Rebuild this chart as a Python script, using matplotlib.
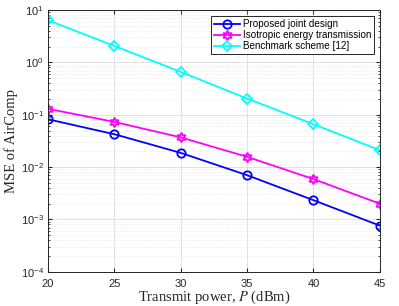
import matplotlib
matplotlib.use('Agg')
import matplotlib.pyplot as plt
import numpy as np

# Datos
power_dbm = [20, 25, 30, 35, 40, 45]
mse_proposed = [0.082, 0.0425, 0.0187, 0.0070, 0.00233, 0.00076]
mse_isotropic = [0.13, 0.073, 0.037, 0.0157, 0.0059, 0.0020]
mse_benchmark = [6.4, 2.07, 0.66, 0.204, 0.066, 0.021]

labels = ['Proposed joint design', 'Isotropic energy transmission', 'Benchmark scheme [12]']

plt.rcParams['font.family'] = ['Liberation Sans', 'DejaVu Sans']
plt.rcParams['mathtext.fontset'] = 'stix'

fig = plt.figure(figsize=(3.99, 3.06), dpi=100)
ax = fig.add_axes([0.120, 0.112, 0.832, 0.855])

ax.semilogy(power_dbm, mse_proposed, color='#0000ff', lw=1.3, marker='o', ms=6,
            mfc='none', mew=1.3, label=labels[0])
ax.semilogy(power_dbm, mse_isotropic, color='#ff00ff', lw=1.3, marker=(6, 1, 0), ms=7,
            mfc='none', mew=1.3, label=labels[1])
ax.semilogy(power_dbm, mse_benchmark, color='#00ffff', lw=1.3, marker='D', ms=5.5,
            mfc='none', mew=1.3, label=labels[2])

ax.set_xlim(20, 45)
ax.set_ylim(1e-4, 1e1)
ax.set_xticks([20, 25, 30, 35, 40, 45])
ax.set_yticks([1e-4, 1e-3, 1e-2, 1e-1, 1e0, 1e1])
ax.grid(True, which='major', color='#dcdcdc', lw=0.6)
ax.grid(True, which='minor', color='#e2e2e2', lw=0.5, ls=':')
ax.tick_params(which='both', direction='in', top=True, right=True, labelsize=8,
               colors='#262626', length=3)
ax.tick_params(axis='x', pad=5)
ax.tick_params(axis='y', pad=3)
ax.tick_params(which='minor', length=1.5)
for s in ax.spines.values():
    s.set_color('#262626')
    s.set_linewidth(0.7)

ax.set_xlabel(r'Transmit power, $P$ (dBm)', family='Liberation Serif', fontsize=10.5,
              color='#262626', labelpad=0)
ax.set_ylabel('MSE of AirComp', family='Liberation Serif', fontsize=10.5,
              color='#262626', labelpad=2)

leg = ax.legend(loc='upper right', fontsize=7.1, fancybox=False, framealpha=1,
                edgecolor='#262626', borderpad=0.3, labelspacing=0.12,
                handlelength=2.6, handletextpad=0.3, borderaxespad=0.6)
leg.get_frame().set_linewidth(0.7)

fig.savefig('out.png', dpi=100)
